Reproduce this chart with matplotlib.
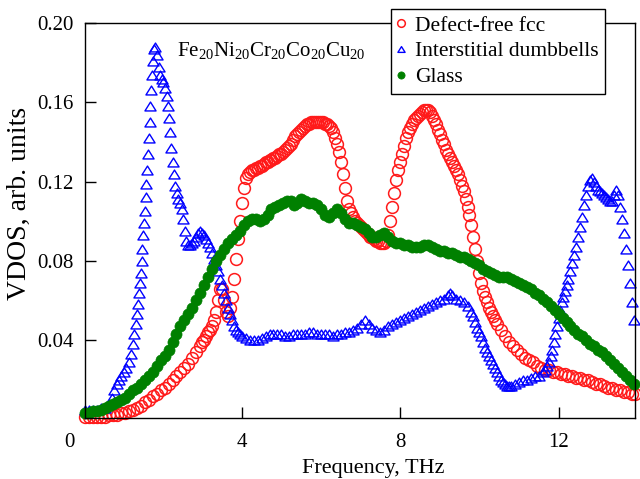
import matplotlib
matplotlib.use("Agg")
import matplotlib.pyplot as plt
from matplotlib.path import Path

plt.rcParams["font.family"] = ["Liberation Serif", "DejaVu Serif"]
plt.rcParams["mathtext.fontset"] = "custom"
plt.rcParams["mathtext.rm"] = "Liberation Serif"
plt.rcParams["mathtext.it"] = "Liberation Serif:italic"
plt.rcParams["font.size"] = 15

# Defect-free fcc
fcc_x = [0.05, 0.15, 0.25, 0.35, 0.45, 0.55, 0.65, 0.75, 0.85, 0.95,
         1.05, 1.15, 1.25, 1.35, 1.45, 1.55, 1.65, 1.75, 1.85, 1.95,
         2.05, 2.15, 2.25, 2.35, 2.45, 2.55, 2.65, 2.75, 2.85, 2.95,
         3.0, 3.05, 3.1, 3.15, 3.2, 3.25, 3.3, 3.35, 3.4, 3.45,
         3.5, 3.55, 3.6, 3.65, 3.7, 3.75, 3.8, 3.85, 3.9, 3.95,
         4.0, 4.05, 4.1, 4.15, 4.2, 4.25, 4.3, 4.35, 4.4, 4.45,
         4.5, 4.55, 4.6, 4.65, 4.7, 4.75, 4.8, 4.85, 4.9, 4.95,
         5.0, 5.05, 5.1, 5.15, 5.2, 5.25, 5.3, 5.35, 5.4, 5.45,
         5.5, 5.55, 5.6, 5.65, 5.7, 5.75, 5.8, 5.85, 5.9, 5.95,
         6.0, 6.05, 6.1, 6.15, 6.2, 6.25, 6.3, 6.35, 6.4, 6.45,
         6.5, 6.55, 6.6, 6.65, 6.7, 6.75, 6.8, 6.85, 6.9, 6.95,
         7.0, 7.05, 7.1, 7.15, 7.2, 7.25, 7.3, 7.35, 7.4, 7.45,
         7.5, 7.55, 7.6, 7.65, 7.7, 7.75, 7.8, 7.85, 7.9, 7.95,
         8.0, 8.05, 8.1, 8.15, 8.2, 8.25, 8.3, 8.35, 8.4, 8.45,
         8.5, 8.55, 8.6, 8.65, 8.7, 8.75, 8.8, 8.85, 8.9, 8.95,
         9.0, 9.05, 9.1, 9.15, 9.2, 9.25, 9.3, 9.35, 9.4, 9.45,
         9.5, 9.55, 9.6, 9.65, 9.7, 9.75, 9.8, 9.85, 9.9, 9.95,
         10.0, 10.05, 10.1, 10.15, 10.2, 10.25, 10.3, 10.35, 10.4, 10.45,
         10.55, 10.65, 10.75, 10.85, 10.95, 11.05, 11.15, 11.25, 11.35, 11.45,
         11.55, 11.65, 11.75, 11.85, 11.95, 12.05, 12.15, 12.25, 12.35, 12.45,
         12.55, 12.65, 12.75, 12.85, 12.95, 13.05, 13.15, 13.25, 13.35, 13.45,
         13.55, 13.65, 13.75, 13.85, 13.92]
fcc_y = [0.001, 0.001, 0.001, 0.001, 0.001, 0.001, 0.002, 0.002, 0.002, 0.003,
         0.003, 0.004, 0.005, 0.006, 0.007, 0.009, 0.010, 0.012, 0.013, 0.015,
         0.016, 0.018, 0.020, 0.022, 0.024, 0.026, 0.028, 0.031, 0.034, 0.037,
         0.039, 0.040, 0.042, 0.044, 0.045, 0.047, 0.050, 0.054, 0.060, 0.066,
         0.066, 0.060, 0.054, 0.052, 0.056, 0.062, 0.071, 0.081, 0.091, 0.100,
         0.109, 0.117, 0.122, 0.124, 0.125, 0.126, 0.126, 0.127, 0.127, 0.128,
         0.128, 0.129, 0.130, 0.130, 0.131, 0.131, 0.132, 0.132, 0.133, 0.134,
         0.134, 0.135, 0.136, 0.137, 0.138, 0.139, 0.141, 0.143, 0.144, 0.145,
         0.146, 0.147, 0.148, 0.149, 0.149, 0.150, 0.150, 0.150, 0.150, 0.150,
         0.150, 0.150, 0.149, 0.149, 0.148, 0.147, 0.145, 0.142, 0.139, 0.135,
         0.130, 0.124, 0.117, 0.110, 0.106, 0.104, 0.102, 0.100, 0.099, 0.098,
         0.097, 0.096, 0.095, 0.094, 0.093, 0.092, 0.092, 0.091, 0.090, 0.090,
         0.089, 0.089, 0.089, 0.090, 0.093, 0.100, 0.107, 0.114, 0.121, 0.126,
         0.130, 0.134, 0.138, 0.142, 0.145, 0.147, 0.149, 0.151, 0.152, 0.153,
         0.154, 0.155, 0.156, 0.156, 0.156, 0.155, 0.153, 0.151, 0.149, 0.146,
         0.144, 0.141, 0.139, 0.136, 0.134, 0.132, 0.130, 0.128, 0.126, 0.124,
         0.121, 0.118, 0.115, 0.111, 0.107, 0.103, 0.098, 0.092, 0.086, 0.080,
         0.074, 0.069, 0.065, 0.062, 0.059, 0.056, 0.054, 0.052, 0.050, 0.048,
         0.045, 0.042, 0.039, 0.037, 0.035, 0.033, 0.031, 0.030, 0.029, 0.027,
         0.026, 0.025, 0.025, 0.024, 0.024, 0.023, 0.023, 0.022, 0.022, 0.021,
         0.021, 0.020, 0.020, 0.019, 0.018, 0.018, 0.017, 0.016, 0.016, 0.015,
         0.015, 0.014, 0.014, 0.013, 0.013]

# Interstitial dumbbells
dumb_x = [0.05, 0.15, 0.25, 0.35, 0.45, 0.55, 0.65, 0.72, 0.78, 0.84,
          0.9, 0.96, 1.02, 1.08, 1.14, 1.19, 1.24, 1.28, 1.32, 1.35,
          1.38, 1.41, 1.43, 1.45, 1.47, 1.49, 1.51, 1.53, 1.55, 1.57,
          1.59, 1.61, 1.63, 1.65, 1.67, 1.69, 1.71, 1.73, 1.75, 1.78,
          1.82, 1.86, 1.9, 1.94, 1.98, 2.02, 2.06, 2.1, 2.13, 2.16,
          2.19, 2.22, 2.25, 2.28, 2.32, 2.36, 2.4, 2.44, 2.48, 2.52,
          2.56, 2.6, 2.65, 2.7, 2.75, 2.8, 2.85, 2.9, 2.95, 3.0,
          3.05, 3.1, 3.15, 3.2, 3.25, 3.3, 3.35, 3.4, 3.45, 3.5,
          3.55, 3.6, 3.65, 3.7, 3.75, 3.8, 3.85, 3.9, 3.95, 4.0,
          4.1, 4.2, 4.3, 4.4, 4.5, 4.6, 4.7, 4.8, 4.9, 5.0,
          5.1, 5.2, 5.3, 5.4, 5.5, 5.6, 5.7, 5.8, 5.9, 6.0,
          6.1, 6.2, 6.3, 6.4, 6.5, 6.6, 6.7, 6.8, 6.9, 7.0,
          7.1, 7.2, 7.3, 7.4, 7.5, 7.6, 7.7, 7.8, 7.9, 8.0,
          8.1, 8.2, 8.3, 8.4, 8.5, 8.6, 8.7, 8.8, 8.9, 9.0,
          9.1, 9.2, 9.25, 9.3, 9.4, 9.5, 9.6, 9.7, 9.8, 9.85,
          9.9, 9.95, 10.0, 10.05, 10.1, 10.15, 10.2, 10.25, 10.3, 10.35,
          10.4, 10.45, 10.5, 10.55, 10.6, 10.65, 10.7, 10.75, 10.8, 10.9,
          11.0, 11.1, 11.2, 11.3, 11.4, 11.5, 11.6, 11.65, 11.7, 11.75,
          11.8, 11.84, 11.88, 11.92, 11.96, 12.0, 12.04, 12.08, 12.12, 12.16,
          12.2, 12.25, 12.3, 12.35, 12.4, 12.45, 12.5, 12.55, 12.6, 12.65,
          12.7, 12.75, 12.8, 12.85, 12.9, 12.95, 13.0, 13.05, 13.1, 13.15,
          13.2, 13.25, 13.3, 13.35, 13.4, 13.45, 13.5, 13.55, 13.6, 13.65,
          13.7, 13.75, 13.8, 13.85, 13.9]
dumb_y = [0.005, 0.005, 0.005, 0.005, 0.006, 0.006, 0.008, 0.011, 0.015, 0.018,
          0.020, 0.022, 0.024, 0.026, 0.029, 0.033, 0.038, 0.043, 0.048, 0.053,
          0.058, 0.064, 0.069, 0.074, 0.080, 0.086, 0.093, 0.099, 0.105, 0.112,
          0.119, 0.126, 0.134, 0.142, 0.150, 0.158, 0.166, 0.174, 0.181, 0.187,
          0.188, 0.184, 0.178, 0.174, 0.172, 0.170, 0.167, 0.163, 0.158, 0.152,
          0.145, 0.137, 0.130, 0.124, 0.118, 0.114, 0.111, 0.109, 0.106, 0.101,
          0.095, 0.090, 0.088, 0.088, 0.089, 0.090, 0.092, 0.094, 0.095, 0.094,
          0.093, 0.091, 0.089, 0.087, 0.084, 0.081, 0.078, 0.075, 0.071, 0.068,
          0.064, 0.060, 0.056, 0.053, 0.050, 0.047, 0.045, 0.044, 0.043, 0.042,
          0.041, 0.040, 0.040, 0.040, 0.041, 0.042, 0.043, 0.043, 0.043, 0.043,
          0.042, 0.042, 0.043, 0.043, 0.043, 0.043, 0.044, 0.044, 0.043, 0.043,
          0.043, 0.043, 0.042, 0.043, 0.043, 0.044, 0.044, 0.045, 0.046, 0.048,
          0.050, 0.048, 0.046, 0.045, 0.044, 0.045, 0.047, 0.048, 0.049, 0.050,
          0.051, 0.052, 0.053, 0.054, 0.055, 0.056, 0.057, 0.058, 0.059, 0.060,
          0.061, 0.063, 0.064, 0.063, 0.061, 0.060, 0.059, 0.057, 0.054, 0.052,
          0.049, 0.046, 0.044, 0.042, 0.039, 0.036, 0.034, 0.032, 0.030, 0.028,
          0.026, 0.024, 0.022, 0.020, 0.019, 0.018, 0.017, 0.017, 0.017, 0.018,
          0.019, 0.020, 0.020, 0.021, 0.022, 0.022, 0.024, 0.025, 0.027, 0.029,
          0.032, 0.035, 0.039, 0.043, 0.047, 0.051, 0.055, 0.059, 0.062, 0.065,
          0.068, 0.071, 0.075, 0.079, 0.083, 0.087, 0.092, 0.097, 0.102, 0.108,
          0.113, 0.118, 0.121, 0.122, 0.120, 0.118, 0.116, 0.115, 0.114, 0.113,
          0.112, 0.111, 0.110, 0.110, 0.113, 0.116, 0.113, 0.107, 0.101, 0.094,
          0.086, 0.078, 0.069, 0.059, 0.050]

# Glass
glass_x = [0.05, 0.15, 0.25, 0.35, 0.45, 0.55, 0.65, 0.75, 0.85, 0.95,
           1.05, 1.15, 1.25, 1.35, 1.45, 1.55, 1.65, 1.75, 1.85, 1.95,
           2.05, 2.15, 2.25, 2.35, 2.45, 2.55, 2.65, 2.75, 2.85, 2.95,
           3.05, 3.15, 3.25, 3.35, 3.45, 3.55, 3.65, 3.75, 3.85, 3.95,
           4.05, 4.15, 4.25, 4.35, 4.45, 4.55, 4.65, 4.75, 4.85, 4.95,
           5.05, 5.15, 5.25, 5.32, 5.4, 5.5, 5.6, 5.7, 5.8, 5.9,
           6.0, 6.1, 6.2, 6.3, 6.4, 6.5, 6.6, 6.7, 6.8, 6.9,
           7.0, 7.1, 7.2, 7.3, 7.4, 7.5, 7.6, 7.7, 7.8, 7.9,
           8.0, 8.1, 8.2, 8.3, 8.4, 8.5, 8.6, 8.7, 8.8, 8.9,
           9.0, 9.1, 9.2, 9.3, 9.4, 9.5, 9.6, 9.7, 9.8, 9.9,
           10.0, 10.1, 10.2, 10.3, 10.4, 10.5, 10.6, 10.7, 10.8, 10.9,
           11.0, 11.1, 11.2, 11.3, 11.4, 11.5, 11.6, 11.7, 11.8, 11.9,
           12.0, 12.1, 12.2, 12.3, 12.4, 12.5, 12.6, 12.7, 12.8, 12.9,
           13.0, 13.1, 13.2, 13.3, 13.4, 13.5, 13.6, 13.7, 13.8, 13.9]
glass_y = [0.003, 0.003, 0.004, 0.004, 0.005, 0.006, 0.007, 0.008, 0.009, 0.010,
           0.011, 0.013, 0.015, 0.016, 0.018, 0.020, 0.022, 0.024, 0.027, 0.030,
           0.032, 0.035, 0.039, 0.043, 0.047, 0.050, 0.053, 0.056, 0.060, 0.064,
           0.068, 0.072, 0.076, 0.080, 0.083, 0.086, 0.089, 0.091, 0.093, 0.095,
           0.098, 0.100, 0.101, 0.101, 0.100, 0.101, 0.103, 0.106, 0.107, 0.108,
           0.109, 0.110, 0.110, 0.108, 0.109, 0.111, 0.110, 0.109, 0.109, 0.108,
           0.106, 0.103, 0.102, 0.104, 0.106, 0.104, 0.101, 0.099, 0.099, 0.098,
           0.097, 0.096, 0.094, 0.092, 0.092, 0.093, 0.094, 0.092, 0.090, 0.089,
           0.089, 0.088, 0.088, 0.087, 0.087, 0.087, 0.088, 0.088, 0.087, 0.086,
           0.085, 0.085, 0.084, 0.084, 0.083, 0.082, 0.082, 0.081, 0.080, 0.079,
           0.078, 0.076, 0.075, 0.074, 0.073, 0.072, 0.072, 0.072, 0.071, 0.070,
           0.069, 0.068, 0.067, 0.066, 0.064, 0.063, 0.061, 0.059, 0.057, 0.055,
           0.053, 0.051, 0.049, 0.047, 0.045, 0.043, 0.042, 0.040, 0.038, 0.037,
           0.035, 0.034, 0.032, 0.030, 0.028, 0.026, 0.024, 0.022, 0.020, 0.018]

y_ticks = [0.04, 0.08, 0.12, 0.16, 0.20]
y_tick_labels = ["0.04", "0.08", "0.12", "0.16", "0.20"]
x_ticks = [4, 8, 12]
x_tick_labels = ["4", "8", "12"]

# slightly squat open triangle
tri = Path([(-1.0, -0.8), (1.0, -0.8), (0.0, 0.8), (-1.0, -0.8)], closed=True)

fig = plt.figure(figsize=(6.4, 4.79), dpi=100)
ax = fig.add_axes([0.1328, 0.1273, 0.8594, 0.8246])

ax.plot(fcc_x, fcc_y, linestyle="none", marker="o", ms=8.5, mfc="none",
        mec="#ff1a1a", mew=1.1, clip_on=False, label="Defect-free fcc")
ax.plot(dumb_x, dumb_y, linestyle="none", marker=tri, ms=8.0, mfc="none",
        mec="#0000ff", mew=1.0, clip_on=False, label="Interstitial dumbbells")
ax.plot(glass_x, glass_y, linestyle="none", marker="o", ms=8.0, mfc="#008000",
        mec="#008000", mew=0.5, clip_on=False, label="Glass")

ax.set_xlim(0.04, 13.93)
ax.set_ylim(0.0007, 0.1995)
ax.set_xticks(x_ticks)
ax.set_xticklabels(x_tick_labels)
ax.set_yticks(y_ticks)
ax.set_yticklabels(y_tick_labels)
ax.tick_params(direction="in", length=8, width=1, labelsize=15, pad=8)
ax.tick_params(axis="x", pad=11)
for sp in ax.spines.values():
    sp.set_linewidth(1.0)

# shared corner label for the origin
ax.annotate("0", xy=(0, 0), xycoords="axes fraction", xytext=(-11.5, -17.5),
            textcoords="offset points", ha="center", va="center", fontsize=15)

ax.set_xlabel("Frequency, THz", fontsize=16)
ax.xaxis.set_label_coords(0.524, -0.103)
ax.set_ylabel("VDOS, arb. units", fontsize=20)
ax.yaxis.set_label_coords(-0.0964, 0.544)

ax.text(2.36, 0.1834, r"Fe$_{20}$Ni$_{20}$Cr$_{20}$Co$_{20}$Cu$_{20}$",
        fontsize=15, ha="left", va="baseline")

leg = ax.legend(loc="upper left", bbox_to_anchor=(391 / 640, 1 - 9 / 479),
                bbox_transform=fig.transFigure, borderaxespad=0, fontsize=15.5,
                markerscale=0.65, handlelength=0.3, handletextpad=0.53,
                borderpad=0.3, labelspacing=0.27, fancybox=False, framealpha=1,
                edgecolor="black")
leg.get_frame().set_linewidth(1.0)
leg.set_zorder(5)

fig.savefig("out.png", dpi=100)
